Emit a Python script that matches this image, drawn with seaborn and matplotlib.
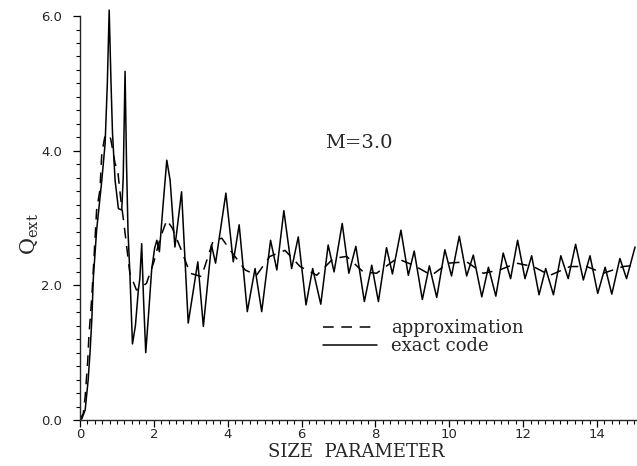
import numpy as np
import pandas as pd
import matplotlib
matplotlib.use('Agg')
import matplotlib.pyplot as plt
from matplotlib.ticker import MultipleLocator
import seaborn as sns

# exact code curve (peaks, troughs, a few in between)
exact_x = [0.00, 0.05, 0.14, 0.22, 0.27, 0.32, 0.36, 0.45, 0.59, 0.68, 0.74, 0.79,
           0.84, 0.88, 0.95, 1.04, 1.13, 1.17, 1.22, 1.26, 1.30, 1.35, 1.42, 1.50,
           1.58, 1.62, 1.67, 1.72, 1.78, 1.86, 1.94, 2.02, 2.08, 2.15, 2.25, 2.35,
           2.44, 2.57, 2.75, 2.93, 3.19, 3.34, 3.56, 3.67, 3.95, 4.15, 4.31, 4.53,
           4.74, 4.92, 5.16, 5.33, 5.52, 5.73, 5.91, 6.12, 6.30, 6.52, 6.72, 6.88,
           7.10, 7.28, 7.47, 7.70, 7.90, 8.08, 8.30, 8.46, 8.69, 8.89, 9.05, 9.27,
           9.46, 9.66, 9.88, 10.06, 10.27, 10.47, 10.65, 10.88, 11.06, 11.26, 11.46,
           11.66, 11.85, 12.05, 12.23, 12.43, 12.61, 12.82, 13.02, 13.22, 13.42,
           13.63, 13.81, 14.02, 14.22, 14.40, 14.62, 14.80, 15.03]
exact_q = [0.00, 0.02, 0.15, 0.59, 0.99, 1.49, 2.10, 2.82, 3.56, 4.11, 5.00, 6.09,
           5.00, 4.26, 3.56, 3.14, 3.12, 3.60, 5.18, 3.80, 2.80, 2.18, 1.13, 1.40,
           1.93, 2.10, 2.62, 1.80, 1.00, 1.60, 2.23, 2.55, 2.67, 2.50, 3.20, 3.86,
           3.56, 2.57, 3.39, 1.44, 2.35, 1.39, 2.60, 2.33, 3.37, 2.35, 2.90, 1.61,
           2.25, 1.61, 2.67, 2.23, 3.11, 2.25, 2.72, 1.71, 2.25, 1.72, 2.60, 2.20,
           2.92, 2.18, 2.58, 1.76, 2.30, 1.76, 2.56, 2.17, 2.82, 2.15, 2.51, 1.79,
           2.29, 1.82, 2.53, 2.14, 2.73, 2.14, 2.45, 1.83, 2.27, 1.84, 2.48,
           2.10, 2.67, 2.10, 2.44, 1.86, 2.25, 1.86, 2.44, 2.10, 2.61,
           2.08, 2.44, 1.88, 2.27, 1.87, 2.40, 2.10, 2.57]

# approximation curve
approx_x = [0.00, 0.09, 0.14, 0.21, 0.24, 0.32, 0.45, 0.54, 0.59, 0.67, 0.75, 0.83,
            0.95, 1.02, 1.10, 1.20, 1.35, 1.53, 1.80, 2.00, 2.17, 2.35, 2.50, 2.71,
            2.98, 3.29, 3.61, 3.84, 4.10, 4.47, 4.78, 5.14, 5.55, 5.96, 6.41, 6.86,
            7.22, 7.67, 8.03, 8.58, 9.03, 9.52, 9.97, 10.47, 10.92, 11.37, 11.82,
            12.27, 12.73, 13.27, 13.72, 14.17, 14.71, 15.05]
approx_q = [0.00, 0.10, 0.35, 0.89, 1.24, 1.83, 3.12, 3.42, 3.96, 4.20, 4.25, 4.18,
            3.81, 3.71, 3.30, 2.87, 2.18, 1.93, 2.03, 2.35, 2.70, 2.97, 2.85, 2.57,
            2.18, 2.13, 2.67, 2.70, 2.50, 2.23, 2.15, 2.43, 2.52, 2.28, 2.15, 2.40,
            2.43, 2.20, 2.18, 2.40, 2.30, 2.15, 2.33, 2.35, 2.18, 2.23, 2.33,
            2.28, 2.15, 2.28, 2.28, 2.18, 2.28, 2.30]

x_ticks = [0, 2, 4, 6, 8, 10, 12, 14]
y_ticks = [0.0, 2.0, 4.0, 6.0]

sns.set_style('ticks')
plt.rcParams['font.family'] = ['DejaVu Serif']

fig = plt.figure(figsize=(6.37, 4.66), dpi=100)
ax = fig.add_axes([0.1256, 0.0987, 0.8725, 0.8884])

df_exact = pd.DataFrame({'x': exact_x, 'q': exact_q})
df_approx = pd.DataFrame({'x': approx_x, 'q': approx_q})

sns.lineplot(data=df_approx, x='x', y='q', ax=ax, color='black', lw=1.1,
             linestyle=(0, (7, 5)), label='approximation')
sns.lineplot(data=df_exact, x='x', y='q', ax=ax, color='black', lw=1.1,
             label='exact code')

ax.set_xlim(0, 15.05)
ax.set_ylim(0, 6.15)
sns.despine(ax=ax)
ax.spines['left'].set_bounds(0, 6.0)
ax.spines['left'].set_linewidth(1.0)
ax.spines['bottom'].set_linewidth(1.0)

ax.set_xticks(x_ticks)
ax.set_xticklabels([str(t) for t in x_ticks], family='DejaVu Sans', fontsize=9.5)
ax.set_yticks(y_ticks)
ax.set_yticklabels([f'{t:.1f}' for t in y_ticks], family='DejaVu Sans', fontsize=9.5)
ax.xaxis.set_minor_locator(MultipleLocator(0.2))
ax.yaxis.set_minor_locator(MultipleLocator(0.2))
ax.tick_params(which='major', length=5, width=0.9, color='black')
ax.tick_params(which='minor', length=3, width=0.8, color='black')
ax.tick_params(axis='x', which='major', pad=1)
ax.tick_params(axis='y', which='major', pad=8)

ax.set_xlabel('SIZE  PARAMETER', fontsize=13)
ax.xaxis.set_label_coords(0.497, -0.055)
ax.xaxis.label.set_va('top')
ax.set_ylabel(r'$\mathregular{Q_{ext}}$', fontsize=15)
ax.yaxis.set_label_coords(-0.07, 0.45)

ax.text(6.63, 4.11, 'M=3.0', fontsize=14, va='center', ha='left')

ax.legend(loc='upper left', bbox_to_anchor=(0.437, 0.244), frameon=False,
          fontsize=13, borderpad=0, borderaxespad=0, labelspacing=0.0,
          handlelength=3.0, handletextpad=0.8)

fig.savefig('out.png', dpi=100)
